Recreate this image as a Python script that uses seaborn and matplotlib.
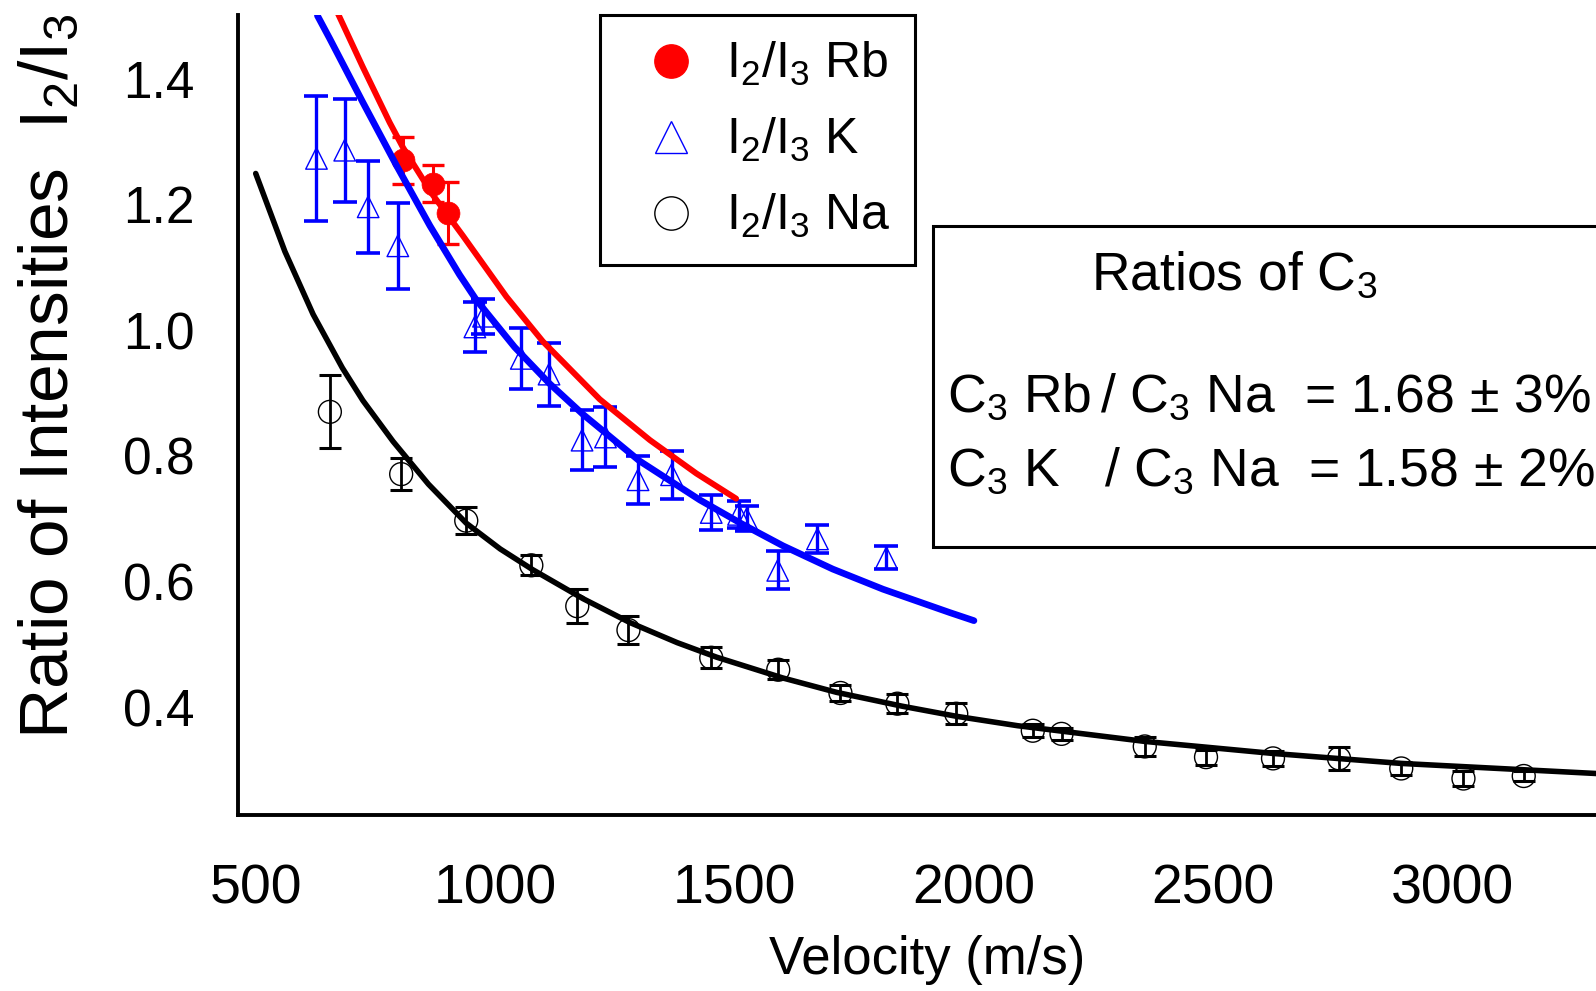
import matplotlib
matplotlib.use("Agg")
import matplotlib.pyplot as plt
from matplotlib.lines import Line2D
from matplotlib.patches import Rectangle
import seaborn as sns

# ---- measured I2/I3 ratios (velocity in m/s) ----
rb_v = [807, 869, 901]
rb_ratio = [1.270, 1.233, 1.186]
rb_err = [0.037, 0.030, 0.049]

k_v = [626, 685, 734, 796, 957, 975, 1054, 1112, 1181, 1230, 1298, 1368,
       1451, 1508, 1525, 1590, 1673, 1817]
k_ratio = [1.273, 1.286, 1.196, 1.134, 1.005, 1.022, 0.955, 0.930, 0.825,
           0.830, 0.762, 0.770, 0.710, 0.707, 0.700, 0.618, 0.668, 0.638]
k_err = [0.099, 0.082, 0.073, 0.068, 0.040, 0.028, 0.048, 0.050, 0.048,
         0.048, 0.038, 0.038, 0.028, 0.022, 0.020, 0.030, 0.022, 0.018]

na_v = [654, 803, 939, 1075, 1171, 1278, 1451, 1591, 1721, 1840, 1963,
        2123, 2183, 2357, 2485, 2625, 2763, 2893, 3023, 3149]
na_ratio = [0.870, 0.771, 0.697, 0.626, 0.561, 0.523, 0.479, 0.460, 0.423,
            0.406, 0.390, 0.363, 0.358, 0.338, 0.321, 0.319, 0.319, 0.303,
            0.287, 0.291]
na_err = [0.058, 0.026, 0.021, 0.016, 0.027, 0.022, 0.017, 0.015, 0.012,
          0.015, 0.017, 0.010, 0.010, 0.015, 0.012, 0.012, 0.018, 0.010,
          0.012, 0.008]

# ---- fitted curves ----
rb_fit_v = [671, 723, 779, 807, 869, 932, 1023, 1099, 1218, 1323, 1420, 1503]
rb_fit = [1.503, 1.418, 1.330, 1.290, 1.215, 1.150, 1.053, 0.982, 0.890,
          0.825, 0.772, 0.732]

k_fit_v = [628, 654, 723, 793, 863, 925, 960, 1040, 1113, 1183, 1301, 1427,
           1517, 1601, 1705, 1810, 1949, 2000]
k_fit = [1.500, 1.463, 1.362, 1.262, 1.166, 1.088, 1.048, 0.973, 0.915,
         0.866, 0.792, 0.730, 0.691, 0.657, 0.620, 0.588, 0.551, 0.538]

na_fit_v = [499, 560, 619, 680, 723, 786, 860, 939, 1010, 1078, 1183, 1281,
            1380, 1462, 1600, 1713, 1850, 1963, 2091, 2357, 2623, 2893, 3300]
na_fit = [1.249, 1.125, 1.025, 0.940, 0.888, 0.823, 0.755, 0.693, 0.652,
          0.619, 0.573, 0.535, 0.503, 0.480, 0.447, 0.424, 0.402, 0.386,
          0.371, 0.346, 0.327, 0.311, 0.295]

x_ticks = [500, 1000, 1500, 2000, 2500, 3000]
y_ticks = [0.4, 0.6, 0.8, 1.0, 1.2, 1.4]

legend_labels = [r"I$_2$/I$_3$ Rb", r"I$_2$/I$_3$ K", r"I$_2$/I$_3$ Na"]

sns.set_theme(style="white")
plt.rcParams["font.family"] = ["Liberation Sans", "DejaVu Sans"]
plt.rcParams["mathtext.fontset"] = "custom"
plt.rcParams["mathtext.rm"] = "Liberation Sans"
plt.rcParams["mathtext.it"] = "Liberation Sans"
plt.rcParams["mathtext.default"] = "regular"
plt.rcParams["text.color"] = "black"
plt.rcParams["axes.labelcolor"] = "black"

W, H = 1596, 991
fig = plt.figure(figsize=(W / 100, H / 100), dpi=100)
ax = fig.add_axes([238 / W, 1 - 815 / H, (W - 238) / W, (815 - 15) / H])

RED, BLUE, BLACK = "#ff0000", "#0000ff", "#000000"
MS = 16.5

# markers
sns.scatterplot(x=na_v, y=na_ratio, marker="o", s=MS ** 2, facecolor="none",
                edgecolor=BLACK, linewidth=1.0, ax=ax, zorder=2)
sns.scatterplot(x=k_v, y=k_ratio, marker="^", s=15.5 ** 2, facecolor="none",
                edgecolor=BLUE, linewidth=1.0, ax=ax, zorder=2)
sns.scatterplot(x=rb_v, y=rb_ratio, marker="o", s=MS ** 2, facecolor=RED,
                edgecolor=RED, linewidth=0.5, ax=ax, zorder=2)

# error bars
ax.errorbar(na_v, na_ratio, yerr=na_err, fmt="none", ecolor=BLACK,
            elinewidth=2.0, capsize=8.2, capthick=2.2, zorder=3)
ax.errorbar(k_v, k_ratio, yerr=k_err, fmt="none", ecolor=BLUE,
            elinewidth=2.4, capsize=8.4, capthick=2.6, zorder=3)
ax.errorbar(rb_v, rb_ratio, yerr=rb_err, fmt="none", ecolor=RED,
            elinewidth=2.2, capsize=7.8, capthick=2.4, zorder=3)

# fitted curves
sns.lineplot(x=na_fit_v, y=na_fit, sort=False, color=BLACK, lw=4.0, ax=ax,
             zorder=4)
sns.lineplot(x=k_fit_v, y=k_fit, sort=False, color=BLUE, lw=4.8, ax=ax,
             zorder=4)
sns.lineplot(x=rb_fit_v, y=rb_fit, sort=False, color=RED, lw=4.3, ax=ax,
             zorder=5)

ax.set_xlim(462, 3300)
ax.set_ylim(0.229, 1.501)
ax.set_xticks(x_ticks)
ax.set_xticklabels([str(t) for t in x_ticks])
ax.set_yticks(y_ticks)
ax.set_yticklabels([f"{t:.1f}" for t in y_ticks])

for side in ("top", "right"):
    ax.spines[side].set_visible(False)
for side in ("left", "bottom"):
    ax.spines[side].set_linewidth(2.8)
    ax.spines[side].set_color(BLACK)

ax.tick_params(axis="both", direction="out", length=18, width=2.0,
               color=BLACK, labelcolor=BLACK)
ax.tick_params(axis="y", labelsize=37, pad=13)
ax.tick_params(axis="x", labelsize=40, pad=17)

ax.set_xlabel("Velocity (m/s)", fontsize=38, color=BLACK)
ax.xaxis.set_label_coords((927 - 238) / (W - 238), (815 - 960) / 800)
ax.xaxis.label.set_va("center")
ax.set_ylabel(r"Ratio of Intensities  I$_2$/I$_3$", fontsize=50, color=BLACK)
ax.yaxis.set_label_coords((50 - 238) / (W - 238), (815 - 376) / 800)
ax.yaxis.label.set_va("center")
ax.yaxis.label.set_rotation_mode("default")

# legend
LMS = 24
handles = [
    Line2D([], [], ls="", marker="o", ms=LMS, mfc=RED, mec=RED),
    Line2D([], [], ls="", marker="^", ms=LMS - 1, mfc="none", mec=BLUE,
           mew=1.0),
    Line2D([], [], ls="", marker="o", ms=LMS, mfc="none", mec=BLACK, mew=1.0),
]
leg = ax.legend(handles, legend_labels, loc="upper left",
                bbox_to_anchor=(600 / W, 1 - 15 / H),
                bbox_transform=fig.transFigure, borderaxespad=0,
                fontsize=36, frameon=True, fancybox=False, framealpha=1,
                edgecolor=BLACK, borderpad=0.5, labelspacing=0.56,
                handlelength=1.84, handletextpad=0.18, numpoints=1,
                labelcolor=BLACK)
leg.get_frame().set_linewidth(2.2)
leg.set_zorder(10)

# ratio summary box
box = Rectangle((933 / W, 1 - 547 / H), (1700 - 933) / W, (547 - 226) / H,
                transform=fig.transFigure, facecolor="white",
                edgecolor=BLACK, lw=2.2, clip_on=False, zorder=6)
fig.add_artist(box)
FS = 38.5
fig.text(1234 / W, 1 - 290 / H, r"Ratios of C$_3$", ha="center",
         va="baseline", fontsize=FS, color=BLACK, zorder=7)
fig.text(947 / W, 1 - 412 / H, r"C$_3$ Rb", ha="left", va="baseline",
         fontsize=FS, color=BLACK, zorder=7)
fig.text(1100 / W, 1 - 412 / H, r"/ C$_3$ Na  = 1.68 ± 3%", ha="left",
         va="baseline", fontsize=FS, color=BLACK, zorder=7)
fig.text(947 / W, 1 - 486 / H, r"C$_3$ K", ha="left", va="baseline",
         fontsize=FS, color=BLACK, zorder=7)
fig.text(1104 / W, 1 - 486 / H, r"/ C$_3$ Na  = 1.58 ± 2%", ha="left",
         va="baseline", fontsize=FS, color=BLACK, zorder=7)

fig.savefig("out.png", dpi=100, facecolor="white")
